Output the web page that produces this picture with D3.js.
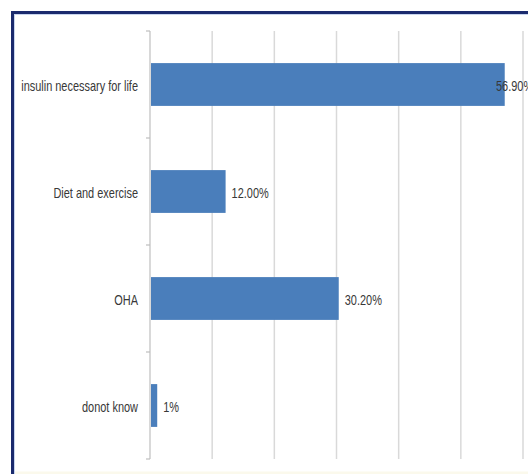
<!DOCTYPE html>
<html>
<head>
<meta charset="utf-8">
<script src="https://cdn.jsdelivr.net/npm/d3@7"></script>
<style>
  html, body { margin: 0; padding: 0; background: #fff; overflow: hidden; }
  svg { display: block; }
  .lbl { font-family: "Liberation Sans", Arial, sans-serif; fill: #383838; }
</style>
</head>
<body>
<svg id="chart" width="528" height="474"></svg>
<script>
const categories = ["insulin necessary for life", "Diet and exercise", "OHA", "donot know"];
const values = [56.9, 12.0, 30.2, 1];
const valueLabels = ["56.90%", "12.00%", "30.20%", "1%"];
const xTicks = [0, 10, 20, 30, 40, 50, 60];

const svg = d3.select("#chart");
const W = 528, H = 474;
const plot = { left: 150, right: 523, top: 31, bottom: 459 };
const squeeze = 0.73;

// frame
svg.append("rect").attr("x", 0).attr("y", 0).attr("width", W).attr("height", H).attr("fill", "#fff");
svg.append("line").attr("x1", 13).attr("x2", W).attr("y1", 473).attr("y2", 473)
  .attr("stroke", "#fbf9ec").attr("stroke-width", 3);
svg.append("rect").attr("x", 12.5).attr("y", 12.5).attr("width", W + 10).attr("height", H + 10)
  .attr("fill", "none").attr("stroke", "#1b2b6e").attr("stroke-width", 3);
svg.append("line").attr("x1", 14).attr("x2", W).attr("y1", 14.5).attr("y2", 14.5)
  .attr("stroke", "#c9d6ee").attr("stroke-width", 1);
svg.append("line").attr("x1", 14.5).attr("x2", 14.5).attr("y1", 14).attr("y2", H)
  .attr("stroke", "#c9d6ee").attr("stroke-width", 1);

const x = d3.scaleLinear().domain([0, 60]).range([plot.left, plot.right]);
const y = d3.scaleBand().domain(categories).range([plot.top, plot.bottom]).paddingInner(0.6).paddingOuter(0.3);
const yb = d3.scaleBand().domain(categories).range([plot.top, plot.bottom]);

// gridlines
svg.append("g").selectAll("line").data(xTicks.slice(1)).join("line")
  .attr("x1", d => x(d)).attr("x2", d => x(d))
  .attr("y1", plot.top).attr("y2", plot.bottom)
  .attr("stroke", "#d9d9d9").attr("stroke-width", 1.5);

// category axis line and tick marks
const ax = svg.append("g").attr("stroke", "#bfbfbf").attr("stroke-width", 1.2);
ax.append("line").attr("x1", plot.left).attr("x2", plot.left).attr("y1", plot.top).attr("y2", plot.bottom);
const bounds = categories.map(c => yb(c)).concat([plot.bottom]);
ax.selectAll("line.tk").data(bounds).join("line").attr("class", "tk")
  .attr("x1", plot.left - 4).attr("x2", plot.left).attr("y1", d => d).attr("y2", d => d);

// bars
svg.append("g").selectAll("rect").data(categories).join("rect")
  .attr("x", x(0) + 1).attr("y", c => y(c))
  .attr("width", (c, i) => x(values[i]) - x(0))
  .attr("height", y.bandwidth())
  .attr("fill", "#4a7ebb");

// category labels
svg.append("g").selectAll("text").data(categories).join("text")
  .attr("class", "lbl")
  .attr("transform", c => `translate(${plot.left - 12},${yb(c) + yb.bandwidth() / 2}) scale(${squeeze},1)`)
  .attr("dy", "0.4em").attr("text-anchor", "end")
  .attr("font-size", 15)
  .text(c => c);

// value labels
svg.append("g").selectAll("text").data(categories).join("text")
  .attr("class", "lbl")
  .attr("transform", (c, i) => `translate(${Math.min(x(values[i]) + 7, 496)},${yb(c) + yb.bandwidth() / 2}) scale(${squeeze},1)`)
  .attr("dy", "0.46em")
  .attr("font-size", 15)
  .text((c, i) => valueLabels[i]);
</script>
</body>
</html>
